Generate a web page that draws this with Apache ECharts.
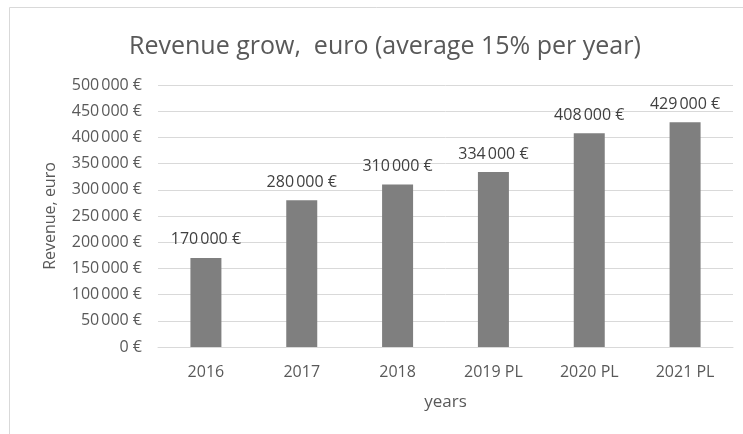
<!DOCTYPE html>
<html>
<head>
<meta charset="utf-8">
<script src="https://cdn.jsdelivr.net/npm/echarts@6/dist/echarts.min.js"></script>
<style>
html,body{margin:0;padding:0;background:#fff;}
#chart{width:743px;height:434px;}
</style>
</head>
<body>
<div id="chart"></div>
<script>
// Revenue per year (last three years are plans)
const years = ['2016', '2017', '2018', '2019 PL', '2020 PL', '2021 PL'];
const revenue = [170000, 280000, 310000, 334000, 408000, 429000];

const FONT = '"Open Sans", "Liberation Sans", sans-serif';
const TEXT = '#595959';

function euro(v) {
  const s = String(Math.round(v)).replace(/\B(?=(\d{3})+(?!\d))/g, '\u202f');
  return s + '\u00a0€';
}

const chart = echarts.init(document.getElementById('chart'), null, { renderer: 'canvas' });
chart.setOption({
  backgroundColor: '#fff',
  animation: false,
  graphic: [{
    type: 'rect',
    shape: { x: 9.5, y: 7.5, width: 760, height: 440 },
    style: { fill: 'none', stroke: '#d9d9d9', lineWidth: 1 },
    silent: true
  }],
  title: {
    text: 'Revenue grow,  euro (average 15% per year)',
    left: 124,
    top: 29,
    textStyle: { fontFamily: FONT, fontSize: 25, fontWeight: 'normal', color: TEXT }
  },
  grid: { left: 158, right: 10, top: 85, bottom: 87 },
  xAxis: {
    type: 'category',
    data: years,
    name: 'years',
    nameLocation: 'middle',
    nameGap: 47,
    nameTextStyle: { fontFamily: FONT, fontSize: 17, color: TEXT },
    axisLine: { lineStyle: { color: '#d9d9d9' } },
    axisTick: { show: false },
    axisLabel: { fontFamily: FONT, fontSize: 16, color: TEXT, margin: 17 }
  },
  yAxis: {
    type: 'value',
    min: 0,
    max: 500000,
    interval: 50000,
    name: 'Revenue, euro',
    nameLocation: 'middle',
    nameRotate: 90,
    nameGap: 100,
    nameTextStyle: { fontFamily: FONT, fontSize: 16, color: TEXT },
    axisLine: { show: false },
    axisTick: { show: false },
    splitLine: { lineStyle: { color: '#d9d9d9', width: 1 } },
    axisLabel: { fontFamily: FONT, fontSize: 16, color: TEXT, margin: 16, formatter: euro }
  },
  series: [{
    type: 'bar',
    data: revenue,
    barWidth: 31,
    itemStyle: { color: '#7f7f7f' },
    label: {
      show: true,
      position: 'top',
      distance: 10,
      fontFamily: FONT,
      fontSize: 16,
      color: '#404040',
      formatter: p => euro(p.value)
    }
  }]
});
</script>
</body>
</html>
